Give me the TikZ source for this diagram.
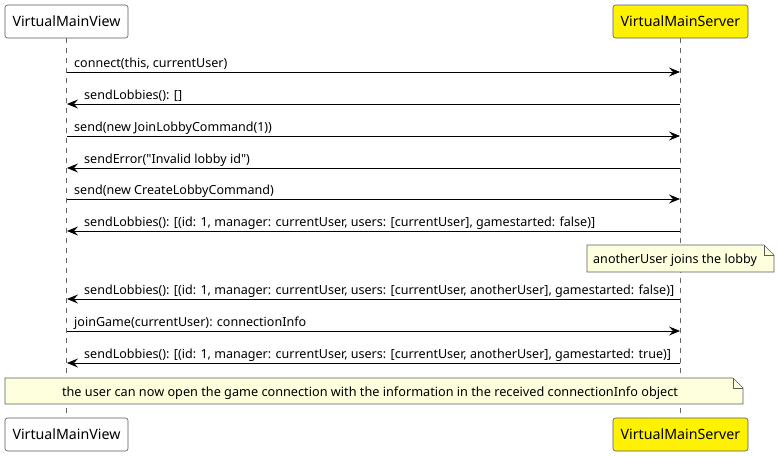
\documentclass[tikz,border=0pt]{standalone}
\usepackage{fontspec}
\setmainfont{Noto Sans}
\usetikzlibrary{arrows.meta,calc}
\definecolor{notefill}{HTML}{FEFFDD}
\definecolor{noteline}{HTML}{181818}
\newcommand\dquote{\XeTeXglyph\XeTeXcharglyph"22\relax}
\begin{document}
\begin{tikzpicture}[x=1pt,y=-1pt,
  part/.style={draw=black!65,rounded corners=2.5pt,line width=0.6pt,minimum height=33pt,inner xsep=6pt,font=\fontsize{14.2}{17}\selectfont,anchor=center},
  life/.style={draw=black!60,dash pattern=on 5pt off 5pt,line width=0.6pt},
  msg/.style={draw=black,line width=0.8pt,-{Stealth[length=11pt,width=9pt,inset=4pt]}},
  lbl/.style={font=\fontsize{12.55}{15}\selectfont,inner sep=0pt,anchor=base west},
  notebox/.style={fill=notefill,draw=noteline!70,line width=0.6pt}
]
\useasboundingbox (0,0) rectangle (780,456);
\fill[white] (0,0) rectangle (780,456);
% participants
\node[part,fill=white,minimum width=123pt] (vt) at (66.5,21.5) {VirtualMainView};
\node[part,fill=yellow,minimum width=135pt] (st) at (680.5,21.5) {VirtualMainServer};
\node[part,fill=white,minimum width=123pt] (vb) at (66.5,434.5) {VirtualMainView};
\node[part,fill=yellow,minimum width=135pt] (sb) at (680.5,434.5) {VirtualMainServer};
% lifelines
\draw[life] (vt.south) -- (vb.north);
\draw[life] (st.south) -- (sb.north);
% coordinates
\foreach \n/\y in {1/72,2/104,3/136,4/168,5/199,6/231,7/299,8/331,9/363}{
  \coordinate (L\n) at (67,\y);
  \coordinate (R\n) at (680,\y);
}
% messages
\draw[msg] (L1) -- (R1);
\node[lbl] (t1) at (74,67) {connect(this, currentUser)};
\draw[msg] (R2) -- (L2);
\node[lbl] (t2) at (84,99) {sendLobbies(): []};
\draw[msg] (L3) -- (R3);
\node[lbl] (t3) at (74,131) {send(new JoinLobbyCommand(1))};
\draw[msg] (R4) -- (L4);
\node[lbl] (t4) at (84,163) {sendError(\dquote Invalid lobby id\dquote)};
\draw[msg] (L5) -- (R5);
\node[lbl] (t5) at (74,194) {send(new CreateLobbyCommand)};
\draw[msg] (R6) -- (L6);
\node[lbl] (t6) at (84,226) {sendLobbies(): [(id: 1, manager: currentUser, users: [currentUser], gamestarted: false)]};
% note 1
\draw[notebox] (587,245) -- (764,245) -- (774,255) -- (774,272) -- (587,272) -- cycle;
\draw[noteline!70,line width=0.6pt] (764,245) -- (764,255) -- (774,255);
\node[lbl] (n1) at (593,263) {anotherUser joins the lobby};
\draw[msg] (R7) -- (L7);
\node[lbl] (t7) at (84,294) {sendLobbies(): [(id: 1, manager: currentUser, users: [currentUser, anotherUser], gamestarted: false)]};
\draw[msg] (L8) -- (R8);
\node[lbl] (t8) at (74,326) {joinGame(currentUser): connectionInfo};
\draw[msg] (R9) -- (L9);
\node[lbl] (t9) at (84,358) {sendLobbies(): [(id: 1, manager: currentUser, users: [currentUser, anotherUser], gamestarted: true)]};
% note 2
\draw[notebox] (5,378) -- (733,378) -- (743,388) -- (743,404) -- (5,404) -- cycle;
\draw[noteline!70,line width=0.6pt] (733,378) -- (733,388) -- (743,388);
\node[font=\fontsize{12.7}{15}\selectfont,inner sep=0pt,anchor=base] (n2) at (370,396) {the user can now open the game connection with the information in the received connectionInfo object};
\end{tikzpicture}
\end{document}
